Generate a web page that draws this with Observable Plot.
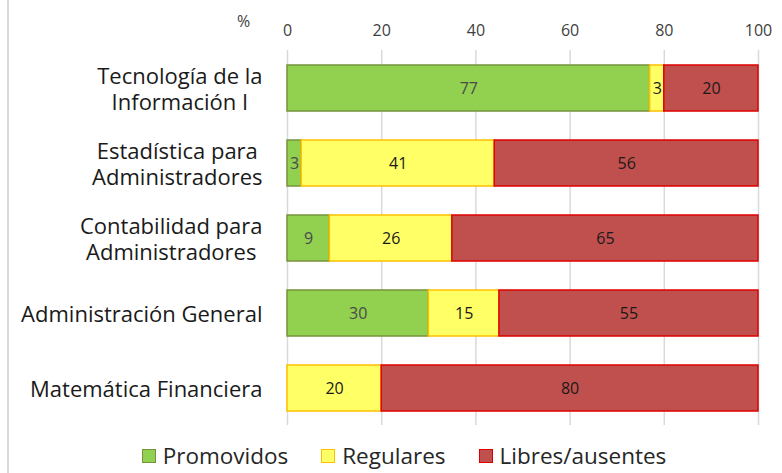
<!DOCTYPE html>
<html>
<head>
<meta charset="utf-8">
<script src="https://cdn.jsdelivr.net/npm/d3@7"></script>
<script src="https://cdn.jsdelivr.net/npm/@observablehq/plot@0.6"></script>
<style>
  html, body { margin: 0; padding: 0; background: #fff; }
  body { width: 782px; height: 473px; position: relative; overflow: hidden; font-family: "Open Sans", "Noto Sans", sans-serif; }
  #border { position: absolute; left: 7px; top: 0; width: 2px; height: 473px; background: #d9d9d9; }
  #chart { position: absolute; left: 0; top: 0; }
  #legend { position: absolute; left: 0; top: 440px; width: 782px; box-sizing: border-box; padding-left: 26px; display: flex; justify-content: center; gap: 33px; font-size: 22.5px; color: #262626; line-height: 32px; }
  .item { display: flex; align-items: center; gap: 7px; }
  .sw { width: 12px; height: 12px; border: 1.5px solid; display: inline-block; }
</style>
</head>
<body>
<div id="border"></div>
<div id="chart"></div>
<div id="legend"></div>
<script>
const categories = ["Tecnología de la\nInformación I", "Estadística para\nAdministradores", "Contabilidad para\nAdministradores", "Administración General", "Matemática Financiera"];
const series = ["Promovidos", "Regulares", "Libres/ausentes"];
const promovidos = [77, 3, 9, 30, 0];
const regulares = [3, 41, 26, 15, 20];
const libres = [20, 56, 65, 55, 80];
const xTicks = [0, 20, 40, 60, 80, 100];
const fills = ["#92D050", "#FFFF66", "#C0504D"];
const strokes = ["#77933C", "#FFC000", "#E00000"];
const labelColors = ["#4a4a4a", "#1a1a1a", "#1a1a1a"];

const values = [promovidos, regulares, libres];
const data = [];
series.forEach((s, si) => {
  categories.forEach((c, ci) => {
    data.push({cat: c, serie: s, value: values[si][ci]});
  });
});
const nonzero = data.filter(d => d.value > 0);

const plot = Plot.plot({
  width: 782,
  height: 440,
  marginLeft: 287,
  marginRight: 24,
  marginTop: 50,
  marginBottom: 15,
  style: {fontFamily: "'Open Sans', 'Noto Sans', sans-serif", background: "transparent"},
  x: {domain: [0, 100], ticks: xTicks},
  y: {domain: categories, paddingInner: 0.39, paddingOuter: 0.195},
  color: {domain: series, range: fills},
  marks: [
    Plot.gridX(xTicks, {stroke: "#d9d9d9", strokeOpacity: 1, strokeWidth: 1.5}),
    Plot.barX(data, Plot.stackX({
      y: "cat", x: "value", z: "serie",
      fill: "serie",
      stroke: d => strokes[series.indexOf(d.serie)],
      strokeWidth: 1.5
    })),
    Plot.text(nonzero, Plot.stackX({
      y: "cat", x: "value", z: "serie",
      text: d => String(d.value),
      fill: d => labelColors[series.indexOf(d.serie)],
      fontSize: 16
    })),
    Plot.axisX(xTicks, {anchor: "top", tickSize: 0, tickPadding: 15, fontSize: 16, fill: "#404040", label: null}),
    Plot.axisY({tickSize: 0, tickPadding: 25, fontSize: 22, fill: "#1a1a1a", label: null, lineHeight: 1.2}),
    Plot.text(["%"], {frameAnchor: "top-left", dx: -44, dy: -35, fontSize: 16, fill: "#404040", textAnchor: "middle"})
  ]
});
document.getElementById("chart").appendChild(plot);

// center multi-line category labels within their block
plot.querySelectorAll('g[aria-label="y-axis tick label"] text').forEach(t => {
  const spans = t.querySelectorAll("tspan");
  if (spans.length > 1) {
    let w = 0;
    spans.forEach(s => { w = Math.max(w, s.getComputedTextLength()); });
    t.setAttribute("text-anchor", "middle");
    spans.forEach(s => s.setAttribute("x", -w / 2));
  }
});

const legend = document.getElementById("legend");
series.forEach((s, i) => {
  const item = document.createElement("div");
  item.className = "item";
  const sw = document.createElement("span");
  sw.className = "sw";
  sw.style.background = fills[i];
  sw.style.borderColor = strokes[i];
  const lab = document.createElement("span");
  lab.textContent = s;
  item.appendChild(sw);
  item.appendChild(lab);
  legend.appendChild(item);
});
</script>
</body>
</html>
